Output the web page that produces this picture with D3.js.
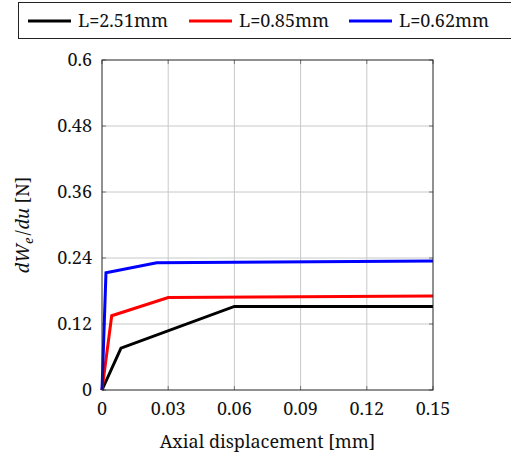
<!DOCTYPE html>
<html>
<head>
<script src="https://d3js.org/d3.v7.min.js"></script>
<style>
  body { margin: 0; background: #fff; }
</style>
</head>
<body>
<div id="chart"></div>
<script>
// series data (x in mm, y in N)
const seriesNames = ["L=2.51mm", "L=0.85mm", "L=0.62mm"];
const seriesColors = ["#000000", "#ff0000", "#0000ff"];
const blackX = [0, 0.0086, 0.06, 0.15];
const blackY = [0, 0.076, 0.152, 0.152];
const redX = [0, 0.0044, 0.03, 0.15];
const redY = [0, 0.135, 0.168, 0.171];
const blueX = [0, 0.0018, 0.0248, 0.15];
const blueY = [0, 0.213, 0.2315, 0.2345];
const xTicks = [0, 0.03, 0.06, 0.09, 0.12, 0.15];
const yTicks = [0, 0.12, 0.24, 0.36, 0.48, 0.6];

const W = 511, H = 459;
const plot = {left: 102, right: 433, top: 60, bottom: 390};
const serif = "'Noto Serif'";

const svg = d3.select("#chart").append("svg")
    .attr("width", W).attr("height", H);

const x = d3.scaleLinear().domain([0, 0.15]).range([plot.left, plot.right]);
const y = d3.scaleLinear().domain([0, 0.6]).range([plot.bottom, plot.top]);

// grid
svg.append("g").selectAll("line").data(xTicks.slice(1, -1)).join("line")
    .attr("x1", d => x(d)).attr("x2", d => x(d))
    .attr("y1", plot.top).attr("y2", plot.bottom)
    .attr("stroke", "#c8c8c8").attr("stroke-width", 1);
svg.append("g").selectAll("line").data(yTicks.slice(1, -1)).join("line")
    .attr("y1", d => y(d)).attr("y2", d => y(d))
    .attr("x1", plot.left).attr("x2", plot.right)
    .attr("stroke", "#c8c8c8").attr("stroke-width", 1);

// ticks (inward, on both sides)
const tk = 4;
const tickG = svg.append("g").attr("stroke", "#777").attr("stroke-width", 1);
xTicks.forEach(t => {
  tickG.append("line").attr("x1", x(t)).attr("x2", x(t)).attr("y1", plot.bottom).attr("y2", plot.bottom - tk);
  tickG.append("line").attr("x1", x(t)).attr("x2", x(t)).attr("y1", plot.top).attr("y2", plot.top + tk);
});
yTicks.forEach(t => {
  tickG.append("line").attr("y1", y(t)).attr("y2", y(t)).attr("x1", plot.left).attr("x2", plot.left + tk);
  tickG.append("line").attr("y1", y(t)).attr("y2", y(t)).attr("x1", plot.right).attr("x2", plot.right - tk);
});

// lines
const allSeries = [
  blackX.map((v, i) => [v, blackY[i]]),
  redX.map((v, i) => [v, redY[i]]),
  blueX.map((v, i) => [v, blueY[i]])
];
const line = d3.line().x(d => x(d[0])).y(d => y(d[1]));
allSeries.forEach((pts, i) => {
  svg.append("path").datum(pts)
    .attr("d", line)
    .attr("fill", "none")
    .attr("stroke", seriesColors[i])
    .attr("stroke-width", 3)
    .attr("stroke-linejoin", "miter");
});

// frame
svg.append("rect")
    .attr("x", plot.left).attr("y", plot.top)
    .attr("width", plot.right - plot.left).attr("height", plot.bottom - plot.top)
    .attr("fill", "none").attr("stroke", "#222").attr("stroke-width", 1);

// tick labels
const fs = 18;
svg.append("g").selectAll("text").data(xTicks).join("text")
    .attr("x", d => x(d)).attr("y", plot.bottom + 25)
    .attr("text-anchor", "middle").attr("font-size", fs).attr("fill", "#111")
    .style("font-family", serif)
    .text(d => d === 0 ? "0" : d3.format(".2f")(d));
svg.append("g").selectAll("text").data(yTicks).join("text")
    .attr("x", plot.left - 10).attr("y", d => y(d) + 6)
    .attr("text-anchor", "end").attr("font-size", fs).attr("fill", "#111")
    .style("font-family", serif)
    .text(d => d === 0 ? "0" : (d === 0.6 ? "0.6" : d3.format(".2f")(d)));

// axis titles
svg.append("text")
    .attr("x", (plot.left + plot.right) / 2).attr("y", 448)
    .attr("text-anchor", "middle").attr("font-size", fs).attr("fill", "#111")
    .style("font-family", serif)
    .text("Axial displacement [mm]");

const yl = svg.append("text")
    .attr("transform", `translate(29,${(plot.top + plot.bottom) / 2}) rotate(-90)`)
    .attr("text-anchor", "middle").attr("font-size", fs).attr("fill", "#111")
    .style("font-family", serif);
yl.append("tspan").attr("font-style", "italic").text("dW");
yl.append("tspan").attr("font-style", "italic").attr("font-size", 13).attr("dy", 4).text("e");
yl.append("tspan").attr("dy", -4).attr("dx", 2).text("/");
yl.append("tspan").attr("font-style", "italic").attr("dx", 1).text("du");
yl.append("tspan").text(" [N]");

// legend
svg.append("rect")
    .attr("x", 18.5).attr("y", 2.5).attr("width", 500).attr("height", 36)
    .attr("fill", "#fff").attr("stroke", "#222").attr("stroke-width", 1);
const legX = [28, 189, 349];
seriesNames.forEach((n, i) => {
  svg.append("line")
    .attr("x1", legX[i]).attr("x2", legX[i] + 43)
    .attr("y1", 21).attr("y2", 21)
    .attr("stroke", seriesColors[i]).attr("stroke-width", 3);
  svg.append("text")
    .attr("x", legX[i] + 50).attr("y", 27)
    .attr("font-size", fs).attr("fill", "#111")
    .style("font-family", serif)
    .text(n);
});
</script>
</body>
</html>
